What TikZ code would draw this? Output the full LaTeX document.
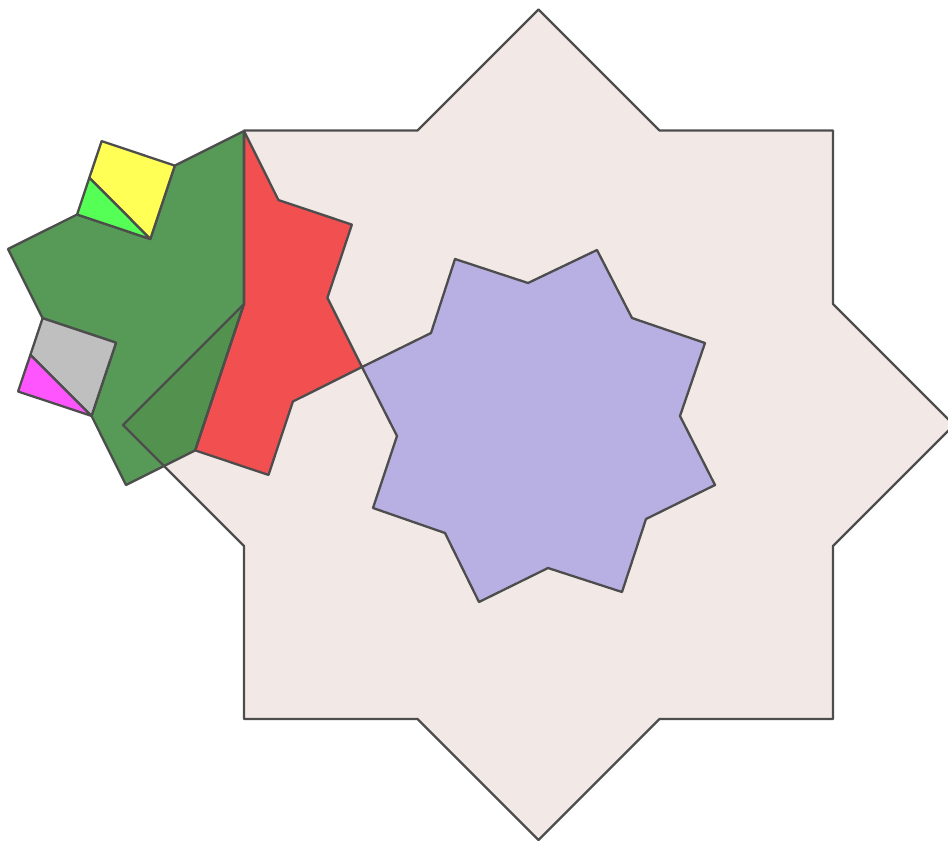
\documentclass[tikz,border=0pt]{standalone}
\usetikzlibrary{calc}
\definecolor{edge}{HTML}{4D4D4D}
\definecolor{bigfill}{HTML}{F2E8E6}
\definecolor{purplefill}{HTML}{B8AFE2}
\definecolor{redfill}{HTML}{F25050}
\definecolor{greenbase}{RGB}{0,100,0}
\definecolor{yellowfill}{HTML}{FFFF55}
\definecolor{lgreenfill}{HTML}{55FF55}
\definecolor{grayfill}{HTML}{BFBFBF}
\definecolor{magentafill}{HTML}{FF55FF}
\begin{document}
\begin{tikzpicture}[x=1pt,y=-1pt,
  piece/.style={draw=edge,line width=2.3pt,line join=round},
  outline/.style={draw=edge,line width=2.3pt,line join=round}]
\useasboundingbox (0,0) rectangle (948,841);
\clip (0,0) rectangle (948,841);
% big star vertices
\coordinate (b0) at (538.5,9.5);
\coordinate (b1) at (659.5,130.5);
\coordinate (b2) at (833,130.5);
\coordinate (b3) at (833,304);
\coordinate (b4) at (954,425);
\coordinate (b5) at (833,546);
\coordinate (b6) at (833,719);
\coordinate (b7) at (659.5,719);
\coordinate (b8) at (538.5,840);
\coordinate (b9) at (417.5,719);
\coordinate (b10) at (244,719);
\coordinate (b11) at (244,546);
\coordinate (b12) at (123,425);
\coordinate (b13) at (244,304);
\coordinate (b14) at (244,130.5);
\coordinate (b15) at (417.5,130.5);
% small star (centre 185,308)
\coordinate (t0) at (244,131);
\coordinate (i0) at (278.5,200.1);
\coordinate (t1) at (351.9,224.6);
\coordinate (i1) at (327.4,297.8);
\coordinate (t2) at (362,367);
\coordinate (i2) at (292.9,401.5);
\coordinate (t3) at (268.5,474.9);
\coordinate (i3) at (195.2,450.4);
\coordinate (t4) at (126,485);
\coordinate (i4) at (91.5,415.9);
\coordinate (t5) at (18.1,391.5);
\coordinate (i5) at (42.6,318.2);
\coordinate (t6) at (8,249);
\coordinate (i6) at (77.1,214.5);
\coordinate (t7) at (101.6,141.1);
\coordinate (i7) at (174.8,165.6);
\coordinate (q7) at (150.3,239);
\coordinate (q5) at (116,342.7);
\coordinate (p7) at ($(t7)!0.5!(i6)$);
\coordinate (p5) at ($(t5)!0.5!(i5)$);
% purple star (centre 538.5,425.5)
\coordinate (u0) at (455,259);
\coordinate (v0) at (528,283);
\coordinate (u1) at (597,250);
\coordinate (v1) at (632,318);
\coordinate (u2) at (705,343);
\coordinate (v2) at (680,416);
\coordinate (u3) at (715,485);
\coordinate (v3) at (646,519);
\coordinate (u4) at (622,592);
\coordinate (v4) at (548,568);
\coordinate (u5) at (479,602);
\coordinate (v5) at (445,533);
\coordinate (u6) at (373,508);
\coordinate (v6) at (397,436);
\coordinate (u7) at (362,367);
\coordinate (v7) at (431,333);

\fill[bigfill] (b0)--(b1)--(b2)--(b3)--(b4)--(b5)--(b6)--(b7)--(b8)--(b9)--(b10)--(b11)--(b12)--(b13)--(b14)--(b15)--cycle;
\path[piece,fill=purplefill] (u0)--(v0)--(u1)--(v1)--(u2)--(v2)--(u3)--(v3)--(u4)--(v4)--(u5)--(v5)--(u6)--(v6)--(u7)--(v7)--cycle;
\path[piece,fill=redfill] (t0)--(i0)--(t1)--(i1)--(t2)--(i2)--(t3)--(i3)--(b13)--cycle;
\path[piece,fill=greenbase,fill opacity=0.66] (t0)--(i7)--(q7)--(i6)--(t6)--(i5)--(q5)--(i4)--(t4)--(i3)--(b13)--cycle;
\path[piece,fill=yellowfill] (t7)--(i7)--(q7)--(p7)--cycle;
\path[piece,fill=lgreenfill] (p7)--(q7)--(i6)--cycle;
\path[piece,fill=grayfill] (i5)--(q5)--(i4)--(p5)--cycle;
\path[piece,fill=magentafill] (p5)--(i4)--(t5)--cycle;
\draw[outline] (b0)--(b1)--(b2)--(b3)--(b4)--(b5)--(b6)--(b7)--(b8)--(b9)--(b10)--(b11)--(b12)--(b13)--(b14)--(b15)--cycle;
\end{tikzpicture}
\end{document}
